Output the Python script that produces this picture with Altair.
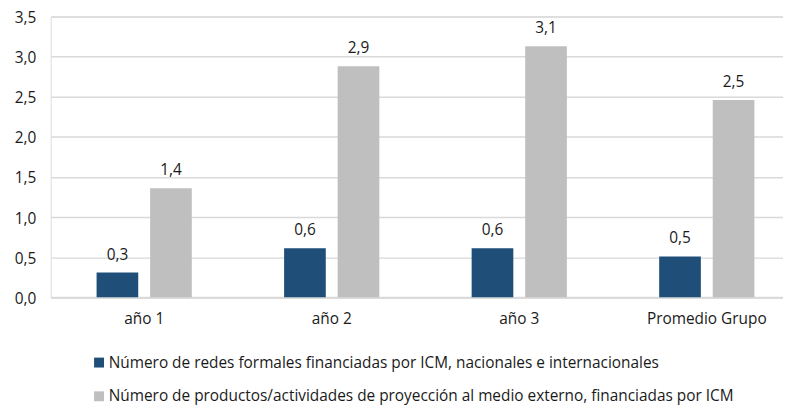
import altair as alt
import pandas as pd

categories = ["año 1", "año 2", "año 3", "Promedio Grupo"]
series_names = [
    "Número de redes formales financiadas por ICM, nacionales e internacionales",
    "Número de productos/actividades de proyección al medio externo, financiadas por ICM",
]
redes = [0.31, 0.61, 0.61, 0.51]
productos = [1.36, 2.88, 3.13, 2.46]
y_ticks = [0.0, 0.5, 1.0, 1.5, 2.0, 2.5, 3.0, 3.5]
colors = ["#1F4E79", "#BFBFBF"]

rows = []
for i, c in enumerate(categories):
    rows.append({"cat": c, "serie": series_names[0], "value": redes[i]})
    rows.append({"cat": c, "serie": series_names[1], "value": productos[i]})
df = pd.DataFrame(rows)

FONT = "Open Sans"
FS = 15.5

x = alt.X("cat:N", sort=categories, title=None,
          scale=alt.Scale(paddingInner=0.45, paddingOuter=0.1775, align=0.63),
          axis=alt.Axis(labelAngle=0, ticks=False, domain=True, domainColor="#D9D9D9",
                        domainWidth=2, labelFontSize=FS, labelFont=FONT, labelColor="#1a1a1a",
                        labelPadding=14, grid=False))
xoff = alt.XOffset("serie:N", sort=series_names,
                   scale=alt.Scale(paddingInner=0.222, paddingOuter=0.074))
y = alt.Y("value:Q", title=None,
          scale=alt.Scale(domain=[0, 3.5], nice=False),
          axis=alt.Axis(values=y_ticks, ticks=False, domain=False, gridColor="#D9D9D9",
                        gridWidth=1.5, labelFontSize=FS, labelFont=FONT, labelColor="#1a1a1a",
                        labelPadding=15, labelOffset=1,
                        labelExpr="replace(format(datum.value, '.1f'), '.', ',')"))

bars = alt.Chart(df).mark_bar().encode(
    x=x, xOffset=xoff, y=y,
    color=alt.Color("serie:N", sort=series_names,
                    scale=alt.Scale(domain=series_names, range=colors),
                    legend=alt.Legend(orient="none", legendX=41, legendY=341, direction="vertical",
                                      symbolType="square", symbolSize=100, labelFontSize=FS,
                                      labelFont=FONT, labelColor="#1a1a1a", rowPadding=17,
                                      title=None, labelLimit=900, padding=0,
                                      symbolStrokeWidth=0, labelOffset=2)),
)

labels = alt.Chart(df).transform_calculate(
    lab="replace(format(datum.value, '.1f'), '.', ',')"
).mark_text(baseline="bottom", dy=-10, fontSize=FS, font=FONT, color="#1a1a1a").encode(
    x=x, xOffset=xoff, y=y, text="lab:N",
)

chart = alt.layer(bars, labels).properties(
    width=738, height=283,
    autosize=alt.AutoSizeParams(type="none"),
    padding={"left": 43, "top": 7, "right": 0, "bottom": 112},
).configure_view(stroke=None).configure(background="white")

chart.save("out.html", embed_options={"renderer": "svg", "actions": False})
